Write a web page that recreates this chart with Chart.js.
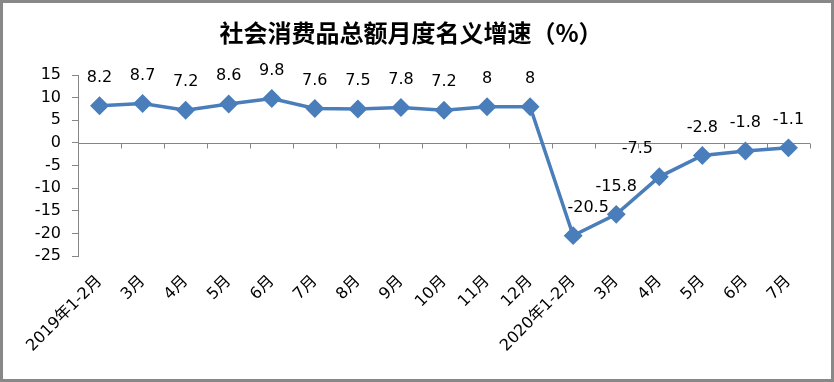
<!DOCTYPE html>
<html>
<head>
<meta charset="utf-8">
<title>社会消费品总额月度名义增速</title>
<script src="https://cdn.jsdelivr.net/npm/chart.js@4/dist/chart.umd.min.js"></script>
<style>
    body { margin: 0; background: #fff; }
    canvas { display: block; }
</style>
</head>
<body>
<canvas id="myChart" width="834" height="382"></canvas>
<script>
// 数据
var months = ['2019年1-2月', '3月', '4月', '5月', '6月', '7月', '8月', '9月', '10月', '11月', '12月',
    '2020年1-2月', '3月', '4月', '5月', '6月', '7月'];
var growth = [8.2, 8.7, 7.2, 8.6, 9.8, 7.6, 7.5, 7.8, 7.2, 8, 8, -20.5, -15.8, -7.5, -2.8, -1.8, -1.1];
var yTicks = [-25, -20, -15, -10, -5, 0, 5, 10, 15];

var lineColor = '#4a7ebb';
var axisColor = '#868686';
var numFont = { family: "'DejaVu Sans', sans-serif", size: 16 };

// 外框
var frame = {
    id: 'frame',
    afterDraw: function (chart) {
        var ctx = chart.ctx;
        ctx.save();
        ctx.strokeStyle = '#888888';
        ctx.lineWidth = 3;
        ctx.strokeRect(1.5, 1.5, chart.width - 3, chart.height - 3);
        ctx.restore();
    }
};

// 横轴在 0 处，刻度线在类别之间
var zeroAxis = {
    id: 'zeroAxis',
    beforeDatasetsDraw: function (chart) {
        var ctx = chart.ctx;
        var x = chart.scales.x, y = chart.scales.y;
        var y0 = Math.round(y.getPixelForValue(0)) + 0.5;
        ctx.save();
        ctx.strokeStyle = axisColor;
        ctx.lineWidth = 1;
        ctx.beginPath();
        ctx.moveTo(chart.chartArea.left, y0);
        ctx.lineTo(chart.chartArea.right, y0);
        for (var i = 1; i <= months.length; i++) {
            var px = Math.round(x.getPixelForValue(i - 0.5)) + 0.5;
            ctx.moveTo(px, y0);
            ctx.lineTo(px, y0 + 5);
        }
        ctx.stroke();
        ctx.restore();
    }
};

// 数据标签
var valueLabels = {
    id: 'valueLabels',
    afterDatasetsDraw: function (chart, args, opts) {
        var ctx = chart.ctx;
        var meta = chart.getDatasetMeta(0);
        ctx.save();
        ctx.font = numFont.size + 'px ' + numFont.family;
        ctx.fillStyle = '#000';
        ctx.textAlign = 'center';
        ctx.textBaseline = 'middle';
        meta.data.forEach(function (pt, i) {
            var dx = opts.nudge[i] || 0;
            ctx.fillText(String(growth[i]), pt.x + dx, pt.y - 28);
        });
        ctx.restore();
    }
};

var ctx = document.getElementById('myChart').getContext('2d');
var myChart = new Chart(ctx, {
    type: 'line',
    data: {
        labels: months,
        datasets: [{
            data: growth,
            borderColor: lineColor,
            backgroundColor: lineColor,
            borderWidth: 3.5,
            pointStyle: 'rectRot',
            pointRadius: 7,
            pointBackgroundColor: lineColor,
            pointBorderColor: lineColor,
            tension: 0
        }]
    },
    options: {
        responsive: false,
        animation: false,
        layout: { padding: { left: 12, right: 24, top: 0, bottom: 0 } },
        plugins: {
            legend: { display: false },
            tooltip: { enabled: false },
            title: {
                display: true,
                text: '社会消费品总额月度名义增速（%）',
                color: '#000',
                font: { family: "'Noto Sans CJK SC', sans-serif", size: 24, weight: 'bold', lineHeight: 1.2 },
                padding: { top: 18, bottom: 28.2 }
            },
            valueLabels: { nudge: { 11: 15, 13: -22 } }
        },
        scales: {
            x: {
                offset: true,
                grid: { display: false, drawTicks: false },
                border: { display: false },
                ticks: {
                    autoSkip: false,
                    minRotation: 45,
                    maxRotation: 45,
                    padding: 16,
                    color: '#000',
                    font: { family: "'DejaVu Sans', 'Noto Sans CJK SC', sans-serif", size: 16 }
                },
                afterFit: function (scale) { scale.height = 126; }
            },
            y: {
                min: -25,
                max: 15,
                afterBuildTicks: function (scale) {
                    scale.ticks = yTicks.map(function (v) { return { value: v }; });
                },
                grid: { drawOnChartArea: false, drawTicks: true, tickLength: 6, color: axisColor },
                border: { display: true, color: axisColor },
                ticks: { padding: 11, color: '#000', font: numFont },
                afterFit: function (scale) { scale.width = 66; }
            }
        }
    },
    plugins: [zeroAxis, valueLabels, frame]
});
</script>
</body>
</html>
